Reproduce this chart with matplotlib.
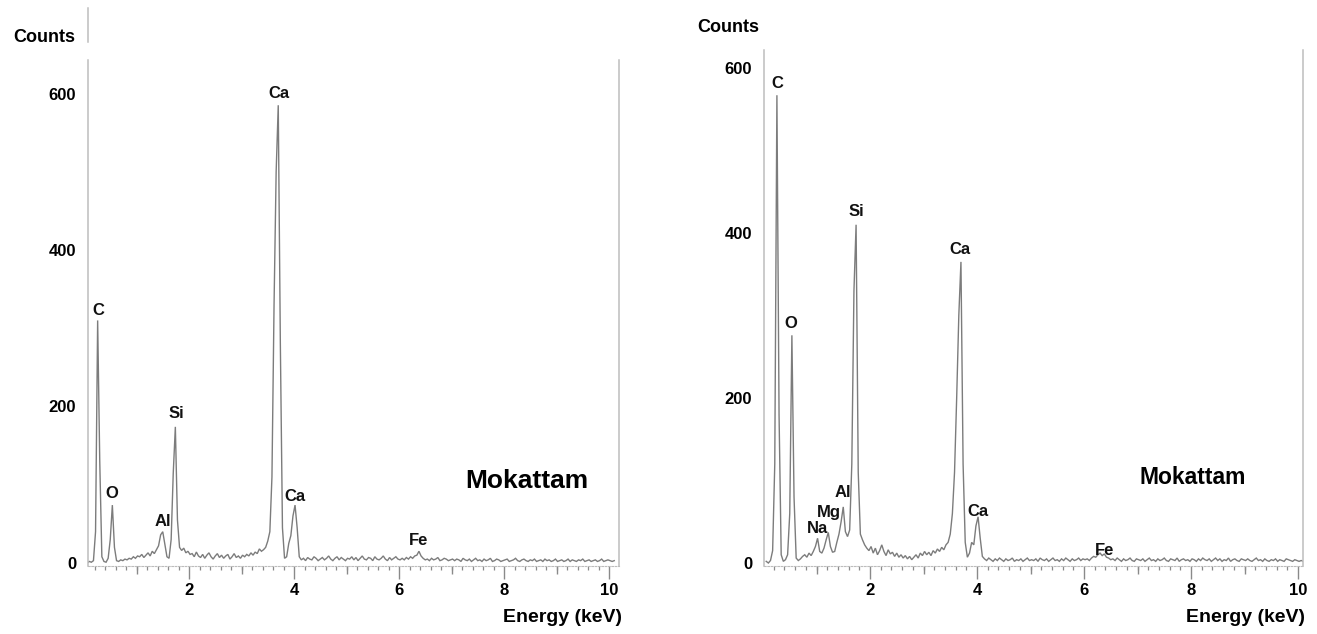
import numpy as np
import matplotlib
matplotlib.use("Agg")
import matplotlib.pyplot as plt
from matplotlib.ticker import MultipleLocator, NullLocator, FixedLocator
from matplotlib.lines import Line2D

# ---------------------------------------------------------------- data
# energy channels (keV), 0.04 keV apart
energy_kev = np.round(0.06 + 0.04 * np.arange(252), 2)

# spectrum 1 (counts), one row per keV
counts_left = (
    [0, 2, 1, 3, 40, 310, 130, 8, 2, 1, 6, 30, 74, 20, 3, 2, 4, 3, 5, 4, 6, 5, 8, 6, 9]
    + [8, 11, 7, 10, 13, 9, 15, 12, 17, 22, 36, 40, 24, 8, 6, 30, 115, 174, 55, 20, 16, 19, 13, 15, 11]
    + [12, 8, 14, 9, 7, 11, 6, 10, 13, 8, 5, 9, 12, 7, 10, 6, 9, 11, 5, 8, 12, 7, 9, 6, 10]
    + [8, 11, 9, 13, 10, 14, 12, 18, 15, 17, 20, 28, 40, 110, 330, 500, 585, 280, 45, 6, 8, 25, 35, 60, 74]
    + [45, 8, 4, 6, 3, 7, 5, 4, 8, 6, 3, 5, 7, 4, 6, 9, 5, 3, 6, 8, 4, 7, 5, 3, 6]
    + [5, 8, 4, 7, 3, 6, 9, 5, 4, 7, 6, 3, 8, 5, 4, 6, 9, 5, 3, 7, 4, 6, 8, 5, 4]
    + [6, 4, 7, 5, 8, 6, 9, 10, 15, 9, 6, 4, 5, 3, 6, 4, 5, 7, 3, 4, 6, 5, 3, 4, 5]
    + [3, 5, 4, 2, 6, 4, 3, 5, 2, 4, 6, 3, 4, 2, 5, 3, 4, 6, 2, 3, 5, 4, 2, 3, 4]
    + [5, 2, 3, 4, 6, 3, 2, 4, 5, 3, 2, 4, 3, 5, 2, 3, 4, 2, 5, 3, 4, 2, 3, 5, 2]
    + [3, 4, 2, 3, 5, 2, 4, 3, 2, 4, 3, 5, 2, 3, 4, 2, 3, 4, 2, 3, 5, 2, 3, 4, 3]
    + [2, 3]
)

# spectrum 2 (counts), one row per keV
counts_right = (
    [2, 0, 3, 15, 120, 567, 180, 10, 2, 4, 10, 60, 276, 80, 6, 3, 5, 8, 10, 7, 12, 9, 14, 20, 30]
    + [14, 12, 18, 28, 37, 20, 13, 14, 25, 35, 50, 68, 38, 32, 40, 120, 330, 410, 110, 35, 28, 22, 18, 15, 20]
    + [12, 18, 10, 15, 22, 14, 9, 16, 11, 13, 8, 12, 7, 10, 6, 9, 5, 8, 4, 7, 10, 6, 12, 9, 14]
    + [10, 13, 9, 15, 12, 17, 14, 19, 16, 22, 25, 35, 60, 110, 200, 300, 365, 120, 25, 7, 12, 25, 22, 45, 56]
    + [30, 8, 5, 3, 6, 4, 2, 5, 3, 6, 4, 2, 5, 3, 4, 6, 2, 4, 3, 5, 2, 4, 6, 3, 4]
    + [3, 5, 2, 6, 4, 3, 5, 2, 4, 6, 3, 4, 2, 5, 3, 6, 4, 2, 5, 3, 4, 6, 3, 5, 4]
    + [5, 3, 6, 8, 7, 10, 12, 9, 11, 7, 6, 4, 5, 3, 6, 4, 2, 5, 3, 4, 6, 3, 2, 5, 4]
    + [3, 5, 2, 4, 6, 3, 4, 2, 5, 3, 4, 6, 3, 2, 5, 4, 3, 6, 2, 4, 5, 3, 4, 2, 5]
    + [4, 2, 5, 3, 6, 4, 3, 5, 2, 4, 6, 3, 5, 2, 4, 3, 6, 2, 4, 5, 3, 2, 5, 4, 3]
    + [5, 3, 2, 4, 6, 3, 4, 2, 5, 3, 2, 4, 3, 5, 2, 4, 3, 2, 5, 4, 3, 2, 4, 3, 2]
    + [3, 2]
)

# identified lines
elements_left = ["C", "O", "Al", "Si", "Ca", "Ca", "Fe"]
line_kev_left = [0.26, 0.54, 1.50, 1.74, 3.70, 4.02, 6.38]
elements_right = ["C", "O", "Na", "Mg", "Al", "Si", "Ca", "Ca", "Fe"]
line_kev_right = [0.26, 0.54, 1.02, 1.22, 1.50, 1.74, 3.70, 4.02, 6.30]

y_ticks = [0, 200, 400, 600]
x_ticks = [2, 4, 6, 8, 10]
sample_name = "Mokattam"
y_title = "Counts"
x_title = "Energy (keV)"

# ---------------------------------------------------------------- style
W, H = 1317, 634
FONT = "Liberation Sans"
plt.rcParams["font.family"] = [FONT, "DejaVu Sans"]
plt.rcParams["font.weight"] = "bold"
TRACE = "#7c7c7c"
FRAME = "#bdbdbd"
TICK = "#8a8a8a"


def fx(px):
    return px / W


def fy(py):
    return 1 - py / H


fig = plt.figure(figsize=(W / 100, H / 100), dpi=100)
fig.patch.set_facecolor("white")


def panel(box, xlim, ylim, counts, names, lines, offsets):
    left, top, right, bottom = box
    ax = fig.add_axes([fx(left), fy(bottom), (right - left) / W, (bottom - top) / H])
    ax.plot(energy_kev, counts, color=TRACE, lw=1.0, solid_joinstyle="miter")
    ax.set_xlim(*xlim)
    ax.set_ylim(*ylim)

    for side in ("left", "right"):
        ax.spines[side].set_color(FRAME)
        ax.spines[side].set_linewidth(1.1)
    ax.spines["top"].set_visible(False)
    ax.spines["bottom"].set_color(FRAME)
    ax.spines["bottom"].set_linewidth(0.8)
    ax.spines["bottom"].set_linestyle((0, (1.5, 1.5)))

    ax.set_yticks(y_ticks)
    ax.tick_params(axis="y", length=0, pad=8.6, labelsize=12)
    ax.xaxis.set_major_locator(FixedLocator(x_ticks))
    ax.xaxis.set_minor_locator(MultipleLocator(0.2))
    ax.tick_params(axis="x", which="major", length=9.5, width=1.0, color=TICK,
                   pad=2.5, labelsize=12)
    ax.tick_params(axis="x", which="minor", length=3.0, width=0.9, color=TICK)
    for lab in ax.get_xticklabels() + ax.get_yticklabels():
        lab.set_fontweight("bold")

    # unlabelled ticks at the odd keV
    sec = ax.secondary_xaxis("bottom")
    sec.set_xticks([1, 3, 5, 7, 9])
    sec.xaxis.set_minor_locator(NullLocator())
    sec.tick_params(length=6.0, width=1.0, color=TICK, labelbottom=False)
    sec.spines["bottom"].set_visible(False)

    for name, e, (dx, dy) in zip(names, lines, offsets):
        i = int(np.argmin(np.abs(energy_kev - e)))
        ax.annotate(name, xy=(energy_kev[i], counts[i]),
                    xytext=(dx * 0.72, dy * 0.72), textcoords="offset points",
                    ha="center", va="center", fontsize=12, fontweight="bold",
                    color="#111111")
    ax.set_facecolor("none")
    return ax


# left spectrum: 0 keV at x=84 px, 52.5 px/keV; 0 counts at y=563 px, 0.7825 px/count
ax1 = panel((88, 60, 619, 566),
            ((88 - 84) / 52.5, (619 - 84) / 52.5),
            ((563 - 566) / 0.7825, (563 - 60) / 0.7825),
            counts_left, elements_left, line_kev_left,
            [(1, 10), (-1, 12), (0, 10), (1, 13), (1, 12), (0, 9), (0, 11)])

# right spectrum: 0 keV at x=763 px, 53.5 px/keV; 0 counts at y=563 px, 0.825 px/count
ax2 = panel((764, 50, 1303, 566),
            ((764 - 763) / 53.5, (1303 - 763) / 53.5),
            ((563 - 566) / 0.825, (563 - 50) / 0.825),
            counts_right, elements_right, line_kev_right,
            [(0, 12), (-1, 12), (0, 10), (1, 20), (0, 14), (0, 13), (-1, 12), (0, 5), (5, 3)])

# upper stub of the left count axis
fig.add_artist(Line2D([fx(88), fx(88)], [fy(8), fy(42)], color=FRAME, lw=1.1))

# axis titles and sample names
fig.text(fx(44), fy(37), y_title, ha="center", va="center", fontsize=13, fontweight="bold")
fig.text(fx(728), fy(28), y_title, ha="center", va="center", fontsize=13, fontweight="bold")
fig.text(fx(622), fy(617), x_title, ha="right", va="center", fontsize=14, fontweight="bold")
fig.text(fx(1305), fy(617), x_title, ha="right", va="center", fontsize=14, fontweight="bold")
fig.text(fx(527), fy(481), sample_name, ha="center", va="center", fontsize=19, fontweight="bold")
fig.text(fx(1193), fy(477), sample_name, ha="center", va="center", fontsize=16.5, fontweight="bold")

fig.savefig("out.png", dpi=100, facecolor="white")
